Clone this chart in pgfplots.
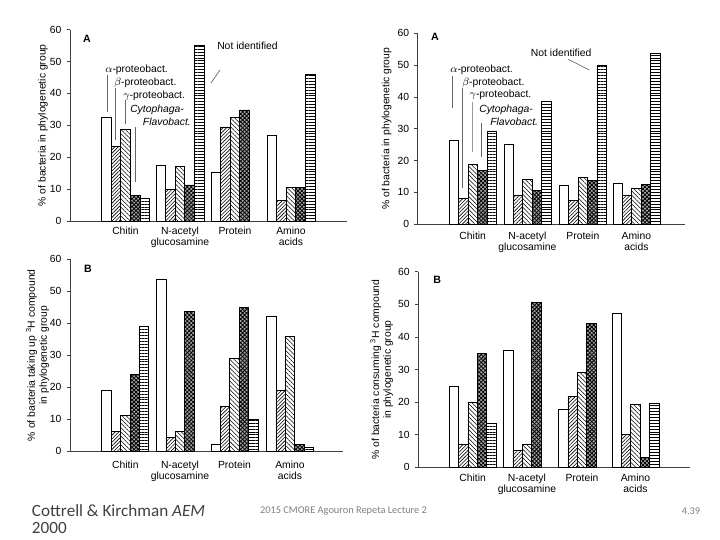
\documentclass[border=0pt]{standalone}
\usepackage{pgfplots}
\pgfplotsset{compat=1.18}
\usetikzlibrary{patterns.meta}
\usepackage{fontspec}
\setmainfont{Liberation Sans}
\newfontfamily\calib{Carlito}

\newcommand\fs{\fontsize{7.8}{8.3}\selectfont}

\pgfplotsset{
  panel/.style={
    scale only axis, anchor=south west, enlargelimits=false, clip=false,
    ymin=0, ymax=60, ytick={0,10,...,60}, xmin=0,
    axis x line=bottom, axis y line=left,
    axis line style={-, line width=0.6pt, black!75},
    x tick style={draw=none},
    y tick style={black!75, line width=0.6pt},
    tick align=outside, major tick length=2.5bp,
    ybar=0pt,
    tick label style={font=\fs},
    xticklabel style={align=center},
    yticklabel style={xshift=-0.5bp},
    /pgf/number format/assume math mode=true,
    xticklabels={Chitin,{N-acetyl\\glucosamine},Protein,{Amino\\acids}},
    ylabel style={font=\fontsize{7.8}{8.9}\selectfont, align=center, anchor=center},
  },
  sa/.style={draw=black, line width=0.5pt, fill=white},
  sb/.style={draw=black, line width=0.5pt, pattern={Lines[angle=45,distance=1.9pt,line width=0.45pt]}},
  sg/.style={draw=black, line width=0.5pt, pattern={Lines[angle=-45,distance=2.3pt,line width=0.4pt]}},
  sc/.style={draw=black, line width=0.5pt, fill=black!35, postaction={pattern={Hatch[angle=45,distance=2.1pt,line width=0.6pt]}}},
  sn/.style={draw=black, line width=0.5pt, pattern={Lines[angle=0,distance=2.2pt,line width=0.45pt]}},
}

\begin{document}
\begin{tikzpicture}
\path[use as bounding box] (0,0) rectangle (540bp,405bp);

% ---------- Top left (A) ----------
\begin{axis}[panel, at={(52.5bp,239.25bp)}, width=207.75bp, height=143.6bp,
  xmax=277, bar width=9.6, xtick={55.5,110,165,221},
  xticklabel style={yshift=1.8bp},
  ylabel={\% of bacteria in phylogenetic group},
  ylabel style={at={(axis description cs:-0.0975,0.5)}}]
\addplot[sa] coordinates {(55.5,32.5) (110,17.4) (165,15.4) (221,26.9)};
\addplot[sb] coordinates {(55.5,23.5) (110,9.9) (165,29.5) (221,6.5)};
\addplot[sg] coordinates {(55.5,28.8) (110,17.0) (165,32.4) (221,10.5)};
\addplot[sc] coordinates {(55.5,7.9) (110,11.3) (165,34.8) (221,10.4)};
\addplot[sn] coordinates {(55.5,7.1) (110,55.1) (221,46.0)};
\end{axis}

% ---------- Top right (A) ----------
\begin{axis}[panel, at={(313.3bp,236.8bp)}, width=200.5bp, height=143.25bp,
  xmax=267.3, bar width=9.4, xtick={55,109.6,165.1,218.6},
  xticklabel style={yshift=0.2bp},
  ylabel={\% of bacteria in phylogenetic group},
  ylabel style={at={(axis description cs:-0.116,0.5)}}]
\addplot[sa] coordinates {(55,26.3) (109.6,25.2) (165.1,12.3) (218.6,12.9)};
\addplot[sb] coordinates {(55,8.0) (109.6,9.1) (165.1,7.6) (218.6,9.1)};
\addplot[sg] coordinates {(55,18.8) (109.6,14.0) (165.1,14.8) (218.6,11.3)};
\addplot[sc] coordinates {(55,16.8) (109.6,10.7) (165.1,13.9) (218.6,12.5)};
\addplot[sn] coordinates {(55,29.1) (109.6,38.7) (165.1,50.0) (218.6,53.7)};
\end{axis}

% ---------- Bottom left (B) ----------
\begin{axis}[panel, at={(52.5bp,66.75bp)}, width=204.75bp, height=143.8bp,
  xmax=273, bar width=9.4, xtick={55.3,110,164.5,220},
  xticklabel style={yshift=-1.8bp},
  ylabel={\% of bacteria taking up \textsuperscript{3}H compound\\in phylogenetic group},
  ylabel style={at={(axis description cs:-0.119,0.5)}}]
\addplot[sa] coordinates {(55.3,18.9) (110,53.8) (164.5,2.1) (220,42.1)};
\addplot[sb] coordinates {(55.3,6.1) (110,4.2) (164.5,14.0) (220,19.0)};
\addplot[sg] coordinates {(55.3,11.1) (110,6.1) (164.5,29.0) (220,35.9)};
\addplot[sc] coordinates {(55.3,24.0) (110,43.8) (164.5,44.9) (220,2.0)};
\addplot[sn] coordinates {(55.3,39.0) (164.5,9.9) (220,1.0)};
\end{axis}

% ---------- Bottom right (B) ----------
\begin{axis}[panel, at={(313.7bp,54.5bp)}, width=203.8bp, height=146.7bp,
  xmax=271.7, bar width=9.4, xtick={54.4,108.7,163.7,217.2},
  xticklabel style={yshift=1.2bp},
  ylabel={\% of bacteria consuming \textsuperscript{3}H compound\\in phylogenetic group},
  ylabel style={at={(axis description cs:-0.135,0.5)}}]
\addplot[sa] coordinates {(54.4,24.7) (108.7,36.0) (163.7,17.8) (217.2,47.2)};
\addplot[sb] coordinates {(54.4,7.1) (108.7,5.1) (163.7,21.8) (217.2,10.2)};
\addplot[sg] coordinates {(54.4,19.9) (108.7,7.1) (163.7,29.0) (217.2,19.4)};
\addplot[sc] coordinates {(54.4,35.0) (108.7,50.6) (163.7,44.2) (217.2,3.1)};
\addplot[sn] coordinates {(54.4,13.5) (217.2,19.6)};
\end{axis}

% ---------- annotations (pixel coordinates) ----------
\begin{scope}[x=0.75bp, y=-0.75bp, yshift=405bp]
  \tikzset{lab/.style={anchor=west, inner sep=0pt, font=\fs}}
  % panel letters
  \node[font=\bfseries\fontsize{8}{9}\selectfont] at (87,39) {A};
  \node[font=\bfseries\fontsize{8}{9}\selectfont] at (435,37.3) {A};
  \node[font=\bfseries\fontsize{8}{9}\selectfont] at (88,269) {B};
  \node[font=\bfseries\fontsize{8}{9}\selectfont] at (437.3,280) {B};
  % top-left legend
  \node[lab] at (105,70) {$\alpha$-proteobact.};
  \node[lab] at (114,82.7) {$\beta$-proteobact.};
  \node[lab] at (123,96) {$\gamma$-proteobact.};
  \node[lab] at (130,110.3) {\itshape Cytophaga-};
  \node[lab] at (142.7,122) {\itshape Flavobact.};
  \node[lab] at (217,45.7) {Not identified};
  \draw[black!60, line width=0.5pt] (107.3,75) -- (107.3,112);
  \draw[black!60, line width=0.5pt] (115.7,88) -- (115.7,140);
  \draw[black!60, line width=0.5pt] (125,100) -- (125,124);
  \draw[black!60, line width=0.5pt] (135,127) -- (135,182);
  \draw[black!60, line width=0.5pt] (220,70) -- (211,83);
  % top-right legend
  \node[lab] at (450,70.3) {$\alpha$-proteobact.};
  \node[lab] at (462,82.7) {$\beta$-proteobact.};
  \node[lab] at (469.3,95) {$\gamma$-proteobact.};
  \node[lab] at (479,110) {\itshape Cytophaga-};
  \node[lab] at (490,121.7) {\itshape Flavobact.};
  \node[lab] at (530.7,52.7) {Not identified};
  \draw[black!60, line width=0.5pt] (452.7,76) -- (452.7,108.3);
  \draw[black!60, line width=0.5pt] (462,88) -- (462,188.3);
  \draw[black!40, line width=0.5pt] (472.3,102) -- (472.3,151.7);
  \draw[black!60, line width=0.5pt] (481.7,123) -- (481.7,156.7);
  \draw[black!60, line width=0.5pt] (568.3,59.3) -- (589.3,70);
  % footer
  \node[anchor=west, inner sep=0pt, font=\calib\fontsize{12.9}{13}\selectfont, black!75] at (31.7,511) {Cottrell \& Kirchman \textit{AEM}};
  \node[anchor=west, inner sep=0pt, font=\calib\fontsize{12.9}{13}\selectfont, black!75] at (31.7,528) {2000};
  \node[anchor=center, inner sep=0pt, font=\calib\fontsize{7.8}{9}\selectfont, black!50] at (343.5,511) {2015 CMORE Agouron Repeta Lecture 2};
  \node[anchor=center, inner sep=0pt, font=\calib\fontsize{7.8}{9}\selectfont, black!50] at (691,511) {4.39};
\end{scope}
\end{tikzpicture}
\end{document}
